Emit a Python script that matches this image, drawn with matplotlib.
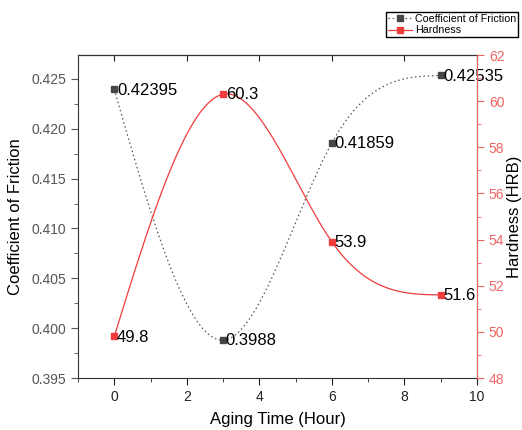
import numpy as np
import matplotlib
matplotlib.use("Agg")
import matplotlib.pyplot as plt
from matplotlib.ticker import MultipleLocator, FormatStrFormatter

plt.rcParams["font.family"] = ["Liberation Sans", "DejaVu Sans"]

# data
aging_time = [0, 3, 6, 9]
cof = [0.42395, 0.3988, 0.41859, 0.42535]
hardness = [49.8, 60.3, 53.9, 51.6]
cof_labels = ["0.42395", "0.3988", "0.41859", "0.42535"]
hard_labels = ["49.8", "60.3", "53.9", "51.6"]

GREY = "#464646"
RED = "#f03c3c"
RED_AX = "#f06464"


def spline_connect(x, y, n=300):
    # natural cubic spline connector through the points (Origin "Spline" line)
    x = np.asarray(x, float); y = np.asarray(y, float)
    h = np.diff(x); N = len(x)
    A = np.zeros((N, N)); r = np.zeros(N)
    A[0, 0] = A[-1, -1] = 1.0
    for i in range(1, N - 1):
        A[i, i - 1] = h[i - 1]; A[i, i] = 2 * (h[i - 1] + h[i]); A[i, i + 1] = h[i]
        r[i] = 6 * ((y[i + 1] - y[i]) / h[i] - (y[i] - y[i - 1]) / h[i - 1])
    M = np.linalg.solve(A, r)
    xs = np.linspace(x[0], x[-1], n)
    k = np.clip(np.searchsorted(x, xs) - 1, 0, N - 2)
    a = x[k + 1] - xs; b = xs - x[k]; hk = h[k]
    ys = (M[k] * a**3 + M[k + 1] * b**3) / (6 * hk) \
        + (y[k] / hk - M[k] * hk / 6) * a + (y[k + 1] / hk - M[k + 1] * hk / 6) * b
    return xs, ys


fig = plt.figure(figsize=(5.22, 4.30), dpi=100)
ax = fig.add_axes([0.1494, 0.1209, 0.7644, 0.7511])
ax2 = ax.twinx()

xs, ys = spline_connect(aging_time, cof)
ax.plot(xs, ys, ls=(0, (1.2, 2.2)), color="#555555", lw=0.9)
ax.plot(aging_time, cof, ls="none", marker="s", ms=5, color=GREY)
for xv, yv, lab in zip(aging_time, cof, cof_labels):
    ax.annotate(lab, (xv, yv), xytext=(2, -0.5), textcoords="offset points",
                va="center", ha="left", fontsize=12)

xs, ys = spline_connect(aging_time, hardness)
ax2.plot(xs, ys, ls="-", color=RED, lw=0.9)
ax2.plot(aging_time, hardness, ls="none", marker="s", ms=5, color=RED)
for xv, yv, lab in zip(aging_time, hardness, hard_labels):
    ax2.annotate(lab, (xv, yv), xytext=(2, -0.5), textcoords="offset points",
                 va="center", ha="left", fontsize=12)

ax.set_xlim(-1, 10)
ax.set_ylim(0.395, 0.4274)
ax2.set_ylim(48, 62)
ax.xaxis.set_major_locator(MultipleLocator(2))
ax.xaxis.set_minor_locator(MultipleLocator(1))
ax.yaxis.set_major_locator(MultipleLocator(0.005))
ax.yaxis.set_minor_locator(MultipleLocator(0.0025))
ax2.yaxis.set_major_locator(MultipleLocator(2))
ax2.yaxis.set_minor_locator(MultipleLocator(1))
ax.yaxis.set_major_formatter(FormatStrFormatter("%.3f"))

ax.set_xlabel("Aging Time (Hour)", fontsize=12, labelpad=6)
ax.set_ylabel("Coefficient of Friction", fontsize=12, labelpad=6)
ax2.set_ylabel("Hardness (HRB)", fontsize=12, labelpad=2)

for sp in ["left", "bottom", "top"]:
    ax.spines[sp].set_color("#333333")
ax2.spines["right"].set_color(RED_AX)
for sp in ["left", "top", "bottom"]:
    ax2.spines[sp].set_visible(False)

ax.tick_params(axis="x", which="both", direction="out", colors="#222222", labelsize=10)
ax.tick_params(axis="x", which="major", length=5)
ax.tick_params(axis="x", which="minor", length=3)
ax.secondary_xaxis("top").tick_params(which="both", direction="in", length=4,
                                       labeltop=False, colors="#222222")
ax.tick_params(axis="y", which="both", direction="out", colors="#555555", labelsize=10)
ax.tick_params(axis="y", which="major", length=5)
ax.tick_params(axis="y", which="minor", length=3)
ax2.tick_params(axis="y", which="both", direction="out", colors=RED_AX, labelsize=10)
ax2.tick_params(axis="y", which="major", length=5)
ax2.tick_params(axis="y", which="minor", length=3)

h1 = ax.plot([], [], ls=(0, (1.2, 2.2)), color="#555555", marker="s", ms=5,
             markerfacecolor=GREY, markeredgecolor=GREY, lw=0.9)[0]
h2 = ax.plot([], [], ls="-", color=RED, marker="s", ms=5, lw=0.9)[0]
fig.legend([h1, h2], ["Coefficient of Friction", "Hardness"],
           loc="upper right", bbox_to_anchor=(0.993, 0.972), fontsize=7.7,
           frameon=True, fancybox=False, edgecolor="#000000", framealpha=1,
           borderpad=0.2, labelspacing=0.1, handlelength=2.2, handletextpad=0.3,
           borderaxespad=0)

fig.savefig("out.png", dpi=100)
